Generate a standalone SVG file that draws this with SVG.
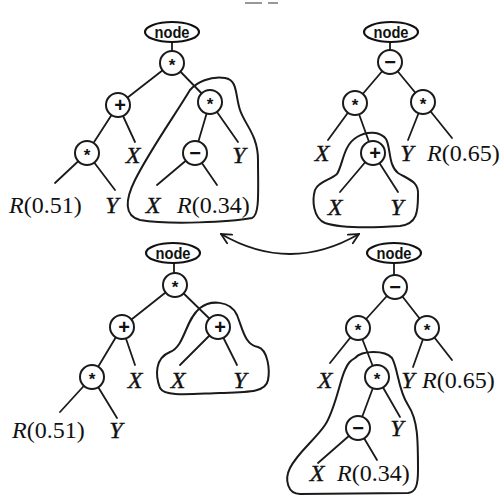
<svg xmlns="http://www.w3.org/2000/svg" width="504" height="495" viewBox="0 0 504 495">
  <defs>
    <style>
      .edge { stroke: #1a1a1a; stroke-width: 1.8; fill: none; stroke-linecap: round; }
      .loop { stroke: #1a1a1a; stroke-width: 2; fill: none; stroke-linejoin: round; }
      .op { fill: #fff; stroke: #1a1a1a; stroke-width: 2; }
      .tag { fill: #fff; stroke: #111; stroke-width: 2.2; }
      .tagtxt { font-family: "Liberation Sans", Arial, sans-serif; font-weight: bold; font-size: 17px; text-anchor: middle; fill: #111; }
      .sym { font-family: "Liberation Sans", Arial, sans-serif; font-weight: bold; text-anchor: middle; fill: #111; }
      .var { font-family: "Liberation Serif", "Times New Roman", serif; font-style: italic; font-size: 24px; text-anchor: middle; fill: #111; stroke: #111; stroke-width: 0.4; }
      .rnd { font-family: "Liberation Serif", "Times New Roman", serif; font-size: 24px; fill: #111; }
      .rnd tspan.i { font-style: italic; }
    </style>
    <marker id="open" viewBox="0 0 12 12" refX="11" refY="6" markerWidth="12" markerHeight="12" markerUnits="userSpaceOnUse" orient="auto-start-reverse">
      <path d="M1,1 L11,6 L1,11" fill="none" stroke="#1a1a1a" stroke-width="1.8" stroke-linecap="round"/>
    </marker>
  </defs>

  <rect width="504" height="495" fill="#fff"/>

  <!-- clipped caption fragment at the top edge -->
  <path d="M245,3 H262 M268,3 H278" stroke="#777" stroke-width="1.5"/>

  <!-- ===== connectors ===== -->
  <g id="connectors">
    <!-- tree A (top left) -->
    <path class="edge" d="M172,42 V52 M172,63 L118,105 M172,63 L210,102 M118,105 L87,153 M118,105 L135,142 M210,102 L195,153 M210,102 L238,142 M87,153 L55,183 M87,153 L115,190 M195,153 L157,185 M195,153 L217,185"/>
    <!-- tree B (top right) -->
    <path class="edge" d="M390,42 V51 M390,62 L355,103 M390,62 L423,102 M355,103 L328,140 M355,103 L373,153 M423,102 L408,140 M423,102 L452,138 M373,153 L340,192 M373,153 L398,192"/>
    <!-- tree C (bottom left) -->
    <path class="edge" d="M174,263 V274 M175,285 L122,327 M175,285 L218,327 M122,327 L92,377 M122,327 L135,365 M218,327 L180,365 M218,327 L237,365 M92,377 L60,412 M92,377 L117,418"/>
    <!-- tree D (bottom right) -->
    <path class="edge" d="M394,263 V276 M395,287 L358,328 M395,287 L427,328 M358,328 L330,363 M358,328 L377,377 M427,328 L413,367 M427,328 L452,360 M377,377 L358,428 M377,377 L400,417 M358,428 L318,463 M358,428 L377,460"/>

    <!-- swap arrow -->
    <path class="edge" d="M221,234 Q290,274 359,234" marker-start="url(#open)" marker-end="url(#open)"/>

    <!-- subtree outlines -->
    <path class="loop" d="M190,90 C175,115 150,150 135,180 C125,200 124,216 140,220 C170,225 230,222 252,218 C260,215 258,190 258,160 C258,135 245,125 240,110 C235,95 238,80 225,78 C210,76 197,82 190,90 Z"/>
    <path class="loop" d="M357,137 C367,131 380,131 386,139 C391,148 388,165 398,173 C410,180 419,182 418,195 C418,212 417,224 400,226 C370,228 340,228 325,223 C313,218 312,200 315,190 C318,182 330,180 337,174 C343,165 343,145 357,137 Z"/>
    <path class="loop" d="M200,308 C210,300 230,300 237,315 C243,330 245,345 258,347 C268,350 270,370 268,380 C266,392 250,392 220,393 C190,394 165,397 160,388 C155,375 155,358 170,352 C185,346 185,320 200,308 Z"/>
    <path class="loop" d="M355,358 C362,350 385,350 392,358 C398,368 398,390 408,405 C418,420 418,440 418,470 C418,485 416,492 408,493 L300,494 C288,494 284,480 290,468 C298,452 315,440 325,425 C335,410 340,380 345,370 C348,363 350,361 355,358 Z"/>
  </g>

  <!-- ===== tree A ===== -->
  <g id="a-tag"><ellipse class="tag" cx="172" cy="32" rx="27" ry="10"/><text class="tagtxt" x="172" y="38" textLength="35" lengthAdjust="spacingAndGlyphs">node</text></g>
  <g id="a-root"><circle class="op" cx="172" cy="63" r="12"/><text class="sym" x="172" y="71" font-size="17">*</text></g>
  <g id="a-plus"><circle class="op" cx="118" cy="105" r="12"/><text class="sym" x="120" y="112" font-size="20">+</text></g>
  <g id="a-mul"><circle class="op" cx="210" cy="102" r="12"/><text class="sym" x="210" y="110" font-size="17">*</text></g>
  <g id="a-mul2"><circle class="op" cx="87" cy="153" r="12"/><text class="sym" x="87" y="161" font-size="17">*</text></g>
  <g id="a-minus"><circle class="op" cx="195" cy="153" r="12"/><text class="sym" x="195" y="160" font-size="20">−</text></g>
  <g id="a-x1"><text class="var" x="133" y="163">X</text></g>
  <g id="a-y1"><text class="var" x="239" y="163">Y</text></g>
  <g id="a-r1"><text class="rnd" x="9" y="213"><tspan class="i">R</tspan>(0.51)</text></g>
  <g id="a-y2"><text class="var" x="112" y="213">Y</text></g>
  <g id="a-x2"><text class="var" x="153" y="213">X</text></g>
  <g id="a-r2"><text class="rnd" x="177" y="213"><tspan class="i">R</tspan>(0.34)</text></g>

  <!-- ===== tree B ===== -->
  <g id="b-tag"><ellipse class="tag" cx="391" cy="32" rx="27" ry="10"/><text class="tagtxt" x="391" y="38" textLength="35" lengthAdjust="spacingAndGlyphs">node</text></g>
  <g id="b-root"><circle class="op" cx="390" cy="62" r="12"/><text class="sym" x="390" y="69" font-size="20">−</text></g>
  <g id="b-mul"><circle class="op" cx="355" cy="103" r="12"/><text class="sym" x="355" y="111" font-size="17">*</text></g>
  <g id="b-mul2"><circle class="op" cx="423" cy="102" r="12"/><text class="sym" x="423" y="110" font-size="17">*</text></g>
  <g id="b-plus"><circle class="op" cx="373" cy="153" r="12"/><text class="sym" x="375" y="160" font-size="20">+</text></g>
  <g id="b-x1"><text class="var" x="322" y="161">X</text></g>
  <g id="b-y1"><text class="var" x="407" y="161">Y</text></g>
  <g id="b-r1"><text class="rnd" x="427" y="161"><tspan class="i">R</tspan>(0.65)</text></g>
  <g id="b-x2"><text class="var" x="335" y="215">X</text></g>
  <g id="b-y2"><text class="var" x="397" y="215">Y</text></g>

  <!-- ===== tree C ===== -->
  <g id="c-tag"><ellipse class="tag" cx="173" cy="253" rx="27" ry="10"/><text class="tagtxt" x="173" y="259" textLength="35" lengthAdjust="spacingAndGlyphs">node</text></g>
  <g id="c-root"><circle class="op" cx="175" cy="285" r="12"/><text class="sym" x="175" y="293" font-size="17">*</text></g>
  <g id="c-plus"><circle class="op" cx="122" cy="327" r="12"/><text class="sym" x="124" y="334" font-size="20">+</text></g>
  <g id="c-plus2"><circle class="op" cx="218" cy="327" r="12"/><text class="sym" x="220" y="334" font-size="20">+</text></g>
  <g id="c-mul"><circle class="op" cx="92" cy="377" r="12"/><text class="sym" x="92" y="385" font-size="17">*</text></g>
  <g id="c-x1"><text class="var" x="135" y="388">X</text></g>
  <g id="c-x2"><text class="var" x="178" y="388">X</text></g>
  <g id="c-y1"><text class="var" x="240" y="388">Y</text></g>
  <g id="c-r1"><text class="rnd" x="12" y="438"><tspan class="i">R</tspan>(0.51)</text></g>
  <g id="c-y2"><text class="var" x="116" y="438">Y</text></g>

  <!-- ===== tree D ===== -->
  <g id="d-tag"><ellipse class="tag" cx="394" cy="253" rx="27" ry="10"/><text class="tagtxt" x="394" y="259" textLength="35" lengthAdjust="spacingAndGlyphs">node</text></g>
  <g id="d-root"><circle class="op" cx="395" cy="287" r="12"/><text class="sym" x="395" y="294" font-size="20">−</text></g>
  <g id="d-mul"><circle class="op" cx="358" cy="328" r="12"/><text class="sym" x="358" y="336" font-size="17">*</text></g>
  <g id="d-mul2"><circle class="op" cx="427" cy="328" r="12"/><text class="sym" x="427" y="336" font-size="17">*</text></g>
  <g id="d-mul3"><circle class="op" cx="377" cy="377" r="12"/><text class="sym" x="377" y="385" font-size="17">*</text></g>
  <g id="d-minus"><circle class="op" cx="358" cy="428" r="12"/><text class="sym" x="358" y="435" font-size="20">−</text></g>
  <g id="d-x1"><text class="var" x="325" y="388">X</text></g>
  <g id="d-y1"><text class="var" x="408" y="388">Y</text></g>
  <g id="d-r1"><text class="rnd" x="422" y="388"><tspan class="i">R</tspan>(0.65)</text></g>
  <g id="d-y2"><text class="var" x="397" y="436">Y</text></g>
  <g id="d-x2"><text class="var" x="317" y="481">X</text></g>
  <g id="d-r2"><text class="rnd" x="337" y="481"><tspan class="i">R</tspan>(0.34)</text></g>
</svg>
